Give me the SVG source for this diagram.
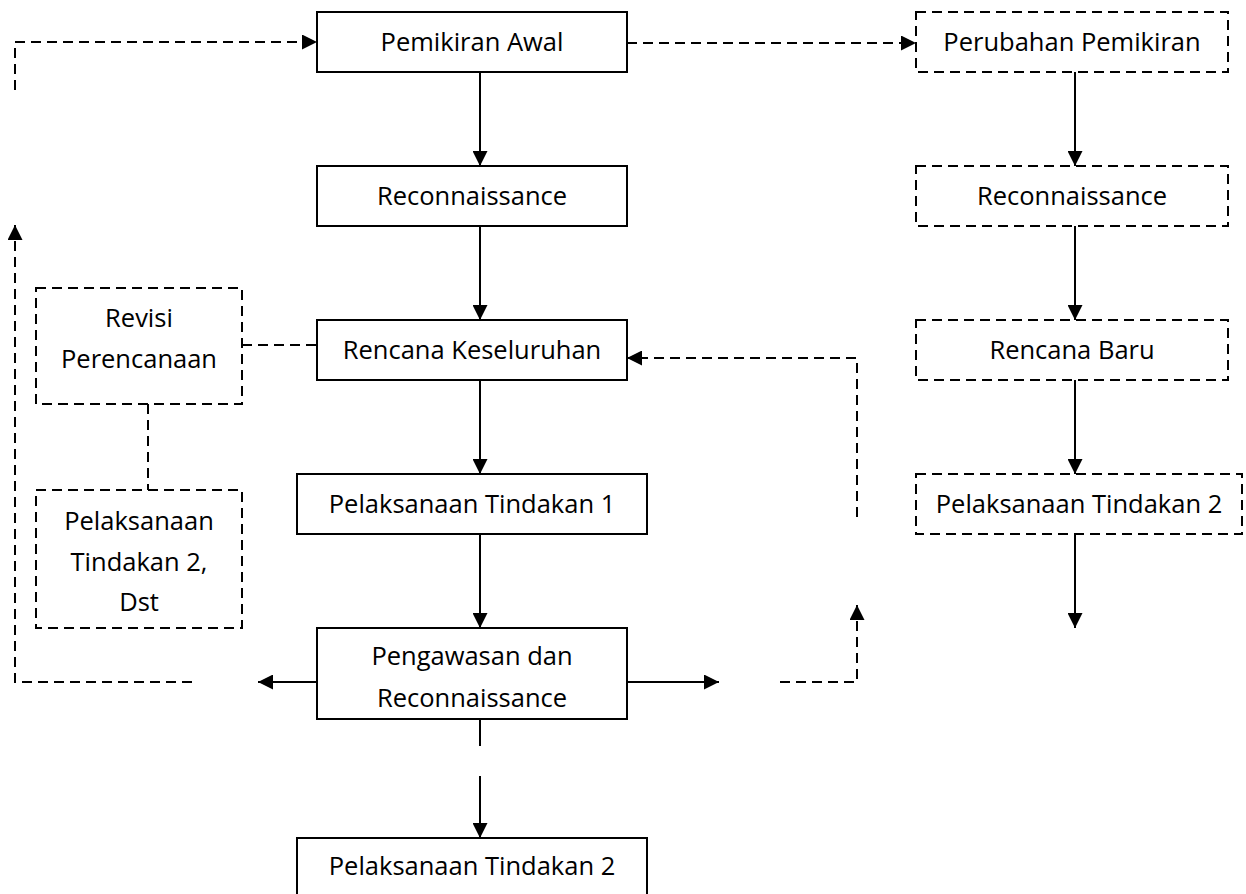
<svg xmlns="http://www.w3.org/2000/svg" width="1246" height="894" viewBox="0 0 1246 894">
  <style>
    .box { fill: #fff; stroke: #000; stroke-width: 2; }
    .dbox { fill: #fff; stroke: #000; stroke-width: 2; stroke-dasharray: 10 6; }
    .ln { fill: none; stroke: #000; stroke-width: 2; }
    .dl { fill: none; stroke: #000; stroke-width: 2; stroke-dasharray: 10 6; }
    text { font-family: "Open Sans", "Noto Sans", sans-serif; font-size: 25.5px; fill: #000; text-anchor: middle; }
  </style>
  <defs>
    <marker id="ah" viewBox="0 0 15 15" refX="15" refY="7.5" markerWidth="15" markerHeight="15" markerUnits="userSpaceOnUse" orient="auto">
      <path d="M0,0 L15,7.5 L0,15 Z" fill="#000"/>
    </marker>
  </defs>
  <rect width="1246" height="894" fill="#fff"/>

  <g id="connectors">
    <!-- main column -->
    <line class="ln" x1="480" y1="72" x2="480" y2="166" marker-end="url(#ah)"/>
    <line class="ln" x1="480" y1="226" x2="480" y2="320" marker-end="url(#ah)"/>
    <line class="ln" x1="480" y1="380" x2="480" y2="474" marker-end="url(#ah)"/>
    <line class="ln" x1="480" y1="534" x2="480" y2="628" marker-end="url(#ah)"/>
    <line class="ln" x1="480" y1="719" x2="480" y2="746"/>
    <line class="ln" x1="480" y1="776" x2="480" y2="838" marker-end="url(#ah)"/>
    <line class="ln" x1="317" y1="682" x2="258" y2="682" marker-end="url(#ah)"/>
    <line class="ln" x1="627" y1="682" x2="719" y2="682" marker-end="url(#ah)"/>
    <!-- right column -->
    <line class="ln" x1="1075" y1="72" x2="1075" y2="166" marker-end="url(#ah)"/>
    <line class="ln" x1="1075" y1="226" x2="1075" y2="320" marker-end="url(#ah)"/>
    <line class="ln" x1="1075" y1="380" x2="1075" y2="474" marker-end="url(#ah)"/>
    <line class="ln" x1="1075" y1="534" x2="1075" y2="628" marker-end="url(#ah)"/>
    <!-- dashed links -->
    <path class="dl" d="M15,90 L15,42 L317,42" marker-end="url(#ah)"/>
    <line class="dl" x1="627" y1="43" x2="916" y2="43" marker-end="url(#ah)"/>
    <path class="dl" d="M192,682 L15,682 L15,225" marker-end="url(#ah)"/>
    <line class="dl" x1="242" y1="345" x2="317" y2="345"/>
    <line class="dl" x1="148" y1="404" x2="148" y2="490"/>
    <path class="dl" d="M857,517 L857,358 L627,358" marker-end="url(#ah)"/>
    <path class="dl" d="M780,682 L857,682 L857,605" marker-end="url(#ah)"/>
  </g>

  <g id="pemikiran-awal">
    <rect class="box" x="317" y="12" width="310" height="60"/>
    <text x="472" y="51">Pemikiran Awal</text>
  </g>
  <g id="reconnaissance">
    <rect class="box" x="317" y="166" width="310" height="60"/>
    <text x="472" y="205">Reconnaissance</text>
  </g>
  <g id="rencana-keseluruhan">
    <rect class="box" x="317" y="320" width="310" height="60"/>
    <text x="472" y="359">Rencana Keseluruhan</text>
  </g>
  <g id="pelaksanaan-tindakan-1">
    <rect class="box" x="297" y="474" width="350" height="60"/>
    <text x="472" y="513">Pelaksanaan Tindakan 1</text>
  </g>
  <g id="pengawasan">
    <rect class="box" x="317" y="628" width="310" height="91"/>
    <text x="472" y="665">Pengawasan dan</text>
    <text x="472" y="707">Reconnaissance</text>
  </g>
  <g id="pelaksanaan-tindakan-2-bawah">
    <rect class="box" x="297" y="838" width="350" height="62"/>
    <text x="472" y="875">Pelaksanaan Tindakan 2</text>
  </g>

  <g id="revisi-perencanaan">
    <rect class="dbox" x="36" y="288" width="206" height="116"/>
    <text x="139" y="327">Revisi</text>
    <text x="139" y="368">Perencanaan</text>
  </g>
  <g id="pelaksanaan-tindakan-2-dst">
    <rect class="dbox" x="36" y="490" width="206" height="138"/>
    <text x="139" y="530">Pelaksanaan</text>
    <text x="139" y="571">Tindakan 2,</text>
    <text x="139" y="611">Dst</text>
  </g>

  <g id="perubahan-pemikiran">
    <rect class="dbox" x="916" y="12" width="312" height="60"/>
    <text x="1072" y="51">Perubahan Pemikiran</text>
  </g>
  <g id="reconnaissance-baru">
    <rect class="dbox" x="916" y="166" width="312" height="60"/>
    <text x="1072" y="205">Reconnaissance</text>
  </g>
  <g id="rencana-baru">
    <rect class="dbox" x="916" y="320" width="312" height="60"/>
    <text x="1072" y="359">Rencana Baru</text>
  </g>
  <g id="pelaksanaan-tindakan-2-kanan">
    <rect class="dbox" x="916" y="474" width="326" height="60"/>
    <text x="1079" y="513">Pelaksanaan Tindakan 2</text>
  </g>
</svg>
